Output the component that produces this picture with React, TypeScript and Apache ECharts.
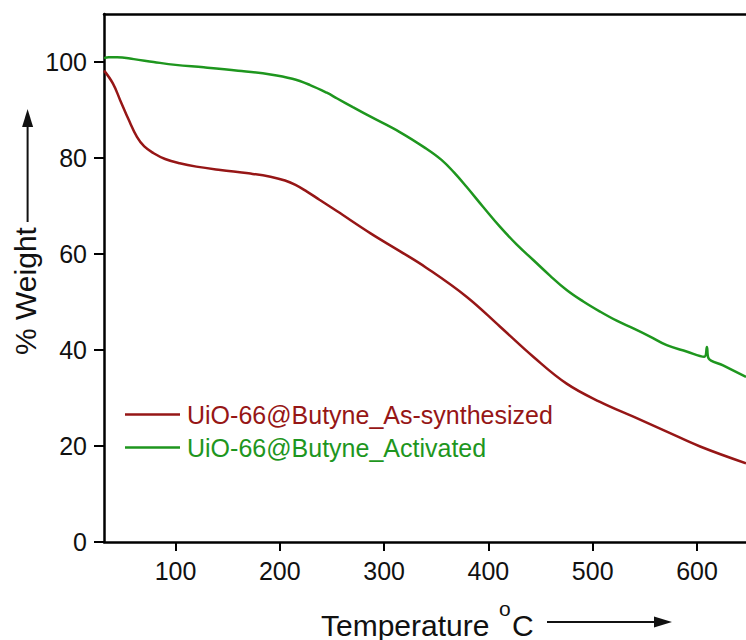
import React, { useEffect, useRef } from "react";
import * as echarts from "echarts";

const xTicks = [100, 200, 300, 400, 500, 600];
const yTicks = [0, 20, 40, 60, 80, 100];

const seriesNames = ["UiO-66@Butyne_As-synthesized", "UiO-66@Butyne_Activated"];
const seriesColors = ["#961616", "#1e961e"];

const asSynthesized: [number, number][] = [
  [31.5, 98.2], [40, 95.5], [47, 92], [55, 88], [63, 84.4], [70, 82.4],
  [79, 81], [90, 79.8], [104, 78.9], [120, 78.2], [143, 77.5], [170, 76.8],
  [191, 76.1], [205, 75.3], [215, 74.4], [226, 73], [238, 71.3], [255, 68.9],
  [287, 64.3], [315, 60.6], [340, 57.2], [379, 51.1], [411, 44.9],
  [443, 38.6], [475, 33], [507, 29.2], [539, 26.1], [571, 23], [603, 19.9],
  [647, 16.4],
];

const activated: [number, number][] = [
  [31.5, 100.8], [36, 101], [44, 101], [60, 100.6], [79, 100], [100, 99.4],
  [127, 98.9], [160, 98.2], [191, 97.4], [212, 96.5], [229, 95.2], [245, 93.6],
  [255, 92.4], [270, 90.6], [287, 88.6], [315, 85.4], [340, 82], [355, 79.6],
  [367, 77], [379, 74], [395, 69.8], [411, 65.7], [427, 62], [443, 58.75],
  [459, 55.5], [475, 52.5], [491, 50.1], [507, 48], [523, 46.1], [539, 44.5],
  [555, 42.8], [571, 41], [590, 39.7], [607, 38.6], [609.5, 40.6], [611, 38.3],
  [625, 36.8], [647, 34.4],
];

const xTitle = "Temperature";
const degree = "o";
const unit = "C";
const yTitle = "% Weight";

const FONT = "'Liberation Sans', Arial, sans-serif";

export default function App() {
  const ref = useRef<HTMLDivElement>(null);
  useEffect(() => {
    if (!ref.current) return;
    const chart = echarts.init(ref.current, undefined, { renderer: "svg" });
    const axisLine = { show: true, lineStyle: { color: "#000", width: 2.5 } };
    chart.setOption({
      animation: false,
      backgroundColor: "#fff",
      textStyle: { fontFamily: FONT },
      grid: { left: 104, right: 0, top: 14, bottom: 98 },
      xAxis: [
        {
          type: "value",
          min: 31.4,
          max: 647,
          axisLine,
          splitLine: { show: false },
          axisTick: {
            show: true,
            customValues: xTicks,
            length: 9,
            lineStyle: { color: "#000", width: 2 },
          },
          axisLabel: {
            customValues: xTicks,
            fontSize: 25,
            color: "#111",
            margin: 16,
            fontFamily: FONT,
          },
        },
        {
          type: "value",
          position: "top",
          min: 31.4,
          max: 647,
          axisLine,
          axisTick: { show: false },
          axisLabel: { show: false },
          splitLine: { show: false },
        },
      ],
      yAxis: {
        type: "value",
        min: 0,
        max: 110,
        axisLine,
        splitLine: { show: false },
        axisTick: {
          show: true,
          customValues: yTicks,
          length: 10,
          lineStyle: { color: "#000", width: 2 },
        },
        axisLabel: {
          customValues: yTicks,
          fontSize: 25,
          color: "#111",
          margin: 17,
          fontFamily: FONT,
        },
      },
      legend: {
        orient: "vertical",
        left: 125,
        top: 402,
        padding: 0,
        icon: "rect",
        itemWidth: 55,
        itemHeight: 2.5,
        itemGap: 8,
        textStyle: { fontSize: 25, fontFamily: FONT, padding: [0, 0, 0, 2] },
        data: seriesNames.map((n, i) => ({
          name: n,
          textStyle: { color: seriesColors[i] },
        })),
      },
      series: [
        {
          name: seriesNames[0],
          type: "line",
          data: asSynthesized,
          symbol: "none",
          smooth: 0.4,
          color: seriesColors[0],
          lineStyle: { width: 2.5, color: seriesColors[0] },
        },
        {
          name: seriesNames[1],
          type: "line",
          data: activated,
          symbol: "none",
          smooth: 0.4,
          color: seriesColors[1],
          lineStyle: { width: 2.5, color: seriesColors[1] },
        },
      ],
      graphic: [
        {
          type: "text",
          left: 321,
          top: 610,
          style: { text: xTitle, fontSize: 30, fontFamily: FONT, fill: "#111" },
        },
        {
          type: "text",
          left: 499,
          top: 598,
          style: { text: degree, fontSize: 21, fontFamily: FONT, fill: "#111" },
        },
        {
          type: "text",
          left: 512,
          top: 610,
          style: { text: unit, fontSize: 30, fontFamily: FONT, fill: "#111" },
        },
        {
          type: "line",
          shape: { x1: 547, y1: 622, x2: 656, y2: 622 },
          style: { stroke: "#111", lineWidth: 2 },
        },
        {
          type: "polygon",
          shape: { points: [[672, 622], [654, 616.5], [654, 627.5]] },
          style: { fill: "#111" },
        },
        {
          type: "text",
          x: 25.6,
          y: 291,
          rotation: Math.PI / 2,
          style: {
            text: yTitle,
            fontSize: 30,
            fontFamily: FONT,
            fill: "#111",
            align: "center",
            verticalAlign: "middle",
          },
        },
        {
          type: "line",
          shape: { x1: 27.6, y1: 222, x2: 27.6, y2: 125 },
          style: { stroke: "#111", lineWidth: 2 },
        },
        {
          type: "polygon",
          shape: { points: [[27.6, 109], [22.1, 127], [33.1, 127]] },
          style: { fill: "#111" },
        },
      ],
    });
    return () => chart.dispose();
  }, []);
  return (
    <div
      ref={ref}
      style={{ position: "absolute", left: 0, top: 0, width: 746, height: 640 }}
    />
  );
}
